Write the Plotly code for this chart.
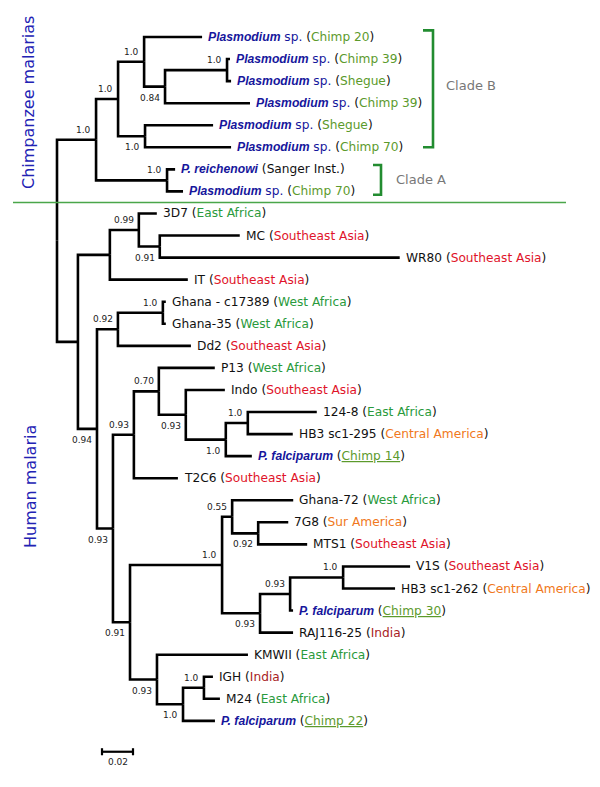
import plotly.graph_objects as go

# ---------------- data ----------------
# internal nodes of the tree (parent listed before child); branch lengths in substitutions/site
internal_nodes = ["root", "C", "B", "B1", "B1b", "B1b1", "B2", "A",
                  "H", "H1", "H1a", "H1b", "Hx", "H2", "H2a", "Hy", "H3", "H3a", "H3b", "H3c", "H3d",
                  "Hz", "H4", "H4a", "H4b", "H4c", "H4d", "H4e", "H5", "H5a", "H5b"]
internal_parent = [None, "root", "C", "B", "B1", "B1b", "B", "C",
                   "root", "H", "H1", "H1a", "H", "Hx", "H2", "Hx", "Hy", "H3", "H3a", "H3b", "H3c",
                   "Hy", "Hz", "H4", "H4a", "H4", "H4c", "H4d", "Hz", "H5", "H5a"]
internal_length = [0.0, 0.0252, 0.0142, 0.0168, 0.0135, 0.0400, 0.0174, 0.0458,
                   0.0135, 0.0206, 0.0187, 0.0135, 0.0123, 0.0135, 0.0290, 0.0103, 0.0135, 0.0161, 0.0174, 0.0258, 0.0142,
                   0.0110, 0.0594, 0.0065, 0.0168, 0.0245, 0.0194, 0.0342, 0.0174, 0.0168, 0.0135]
internal_support = [None, "1.0", "1.0", "1.0", "0.84", "1.0", "1.0", "1.0",
                    None, None, "0.99", "0.91", "0.94", "0.92", "1.0", "0.93", "0.93", "0.70", "0.93", "1.0", "1.0",
                    "0.91", "1.0", "0.55", "0.92", "0.93", "0.93", "1.0", "0.93", "1.0", "1.0"]

# leaves, top to bottom
leaf_name = ["Plasmodium sp.", "Plasmodium sp.", "Plasmodium sp.", "Plasmodium sp.",
             "Plasmodium sp.", "Plasmodium sp.", "P. reichenowi", "Plasmodium sp.",
             "3D7", "MC", "WR80", "IT", "Ghana - c17389", "Ghana-35", "Dd2", "P13", "Indo",
             "124-8", "HB3 sc1-295", "P. falciparum", "T2C6", "Ghana-72", "7G8", "MTS1",
             "V1S", "HB3 sc1-262", "P. falciparum", "RAJ116-25", "KMWII", "IGH", "M24", "P. falciparum"]
leaf_source = ["Chimp 20", "Chimp 39", "Shegue", "Chimp 39", "Shegue", "Chimp 70", "Sanger Inst.", "Chimp 70",
               "East Africa", "Southeast Asia", "Southeast Asia", "Southeast Asia", "West Africa", "West Africa",
               "Southeast Asia", "West Africa", "Southeast Asia", "East Africa", "Central America", "Chimp 14",
               "Southeast Asia", "West Africa", "Sur America", "Southeast Asia", "Southeast Asia",
               "Central America", "Chimp 30", "India", "East Africa", "India", "East Africa", "Chimp 22"]
leaf_parent = ["B1", "B1b1", "B1b1", "B1b", "B2", "B2", "A", "A",
               "H1a", "H1b", "H1b", "H1", "H2a", "H2a", "H2", "H3a", "H3b", "H3d", "H3d", "H3c", "H3",
               "H4a", "H4b", "H4b", "H4e", "H4e", "H4d", "H4c", "H5", "H5b", "H5b", "H5a"]
leaf_length = [0.0374, 0.0019, 0.0026, 0.0548, 0.0439, 0.0555, 0.0052, 0.0103,
               0.0116, 0.0516, 0.1548, 0.0503, 0.0019, 0.0019, 0.0471, 0.0361, 0.0252, 0.0445, 0.0290, 0.0168,
               0.0284, 0.0394, 0.0194, 0.0316, 0.0432, 0.0335, 0.0019, 0.0213, 0.0587, 0.0058, 0.0103, 0.0206]

scale_bar_length = 0.02
group_labels = ["Chimpanzee malarias", "Human malaria"]
clade_labels = ["Clade B", "Clade A"]

# ---------------- styles ----------------
BLUE = "#16169c"
SIDE_BLUE = "#2222b4"
SOURCE_COLORS = {
    "Chimp 20": "#5c9a2c", "Chimp 39": "#5c9a2c", "Shegue": "#5c9a2c", "Chimp 70": "#5c9a2c",
    "Chimp 14": "#5c9a2c", "Chimp 30": "#5c9a2c", "Chimp 22": "#5c9a2c",
    "East Africa": "#2a9a3c", "West Africa": "#2a9a3c",
    "Southeast Asia": "#e0142a", "India": "#a81c24",
    "Central America": "#f07820", "Sur America": "#f07820",
}
FONT = "DejaVu Sans"
SPECIES_FONT = "Liberation Sans"
PAGE_OFF = 8           # default body margin of the html page
VIEW_W, VIEW_H = 600, 787
W, H = VIEW_W - PAGE_OFF, VIEW_H - PAGE_OFF
PX_PER_UNIT = 1550.0
ROOT_PX = 57.0
ROW0_PX, ROW_PX = 37.0, 22.06


def px_x(px):
    return (px - PAGE_OFF) / W


def px_y(py):
    return 1 - (py - PAGE_OFF) / H


# ---------------- tree geometry ----------------
parent = {}
length = {}
for n, p, l in zip(internal_nodes, internal_parent, internal_length):
    parent[n], length[n] = p, l
leaf_ids = [f"L{i}" for i in range(len(leaf_name))]
for n, p, l in zip(leaf_ids, leaf_parent, leaf_length):
    parent[n], length[n] = p, l

children = {n: [] for n in internal_nodes}
for n in internal_nodes[1:] + leaf_ids:
    children[parent[n]].append(n)

xpos = {"root": 0.0}
for n in internal_nodes[1:] + leaf_ids:
    xpos[n] = xpos[parent[n]] + length[n]

ypos = {lid: float(i) for i, lid in enumerate(leaf_ids)}


def get_y(n):
    if n in ypos:
        return ypos[n]
    ys = [get_y(c) for c in children[n]]
    ypos[n] = (min(ys) + max(ys)) / 2.0
    return ypos[n]


get_y("root")

lx, ly = [], []
for n in internal_nodes[1:] + leaf_ids:
    p = parent[n]
    lx += [xpos[p], xpos[p], xpos[n], None]
    ly += [ypos[p], ypos[n], ypos[n], None]

fig = go.Figure()
fig.add_trace(go.Scatter(x=lx, y=ly, mode="lines", line=dict(color="black", width=2.6),
                         hoverinfo="skip", showlegend=False))

annotations = []


def leaf_label(name, source):
    sp = f"font-family:{SPECIES_FONT}"
    if name.startswith("Plasmodium"):
        genus, rest = name.split(" ", 1)
        nm = (f"<span style='color:{BLUE}'><span style='{sp}'><b><i>{genus}</i></b></span>"
              f" {rest}</span>")
    elif name.startswith("P. "):
        nm = f"<span style='color:{BLUE};{sp}'><b><i>{name}</i></b></span>"
    else:
        nm = name
    src = source
    if name == "P. falciparum":
        src = f"<u>{src}</u>"
    col = SOURCE_COLORS.get(source)
    if col:
        src = f"<span style='color:{col}'>{src}</span>"
    return f"{nm} ({src})"


for lid, nm, src in zip(leaf_ids, leaf_name, leaf_source):
    annotations.append(dict(x=xpos[lid], y=ypos[lid], xref="x", yref="y", text=leaf_label(nm, src),
                            showarrow=False, xanchor="left", yanchor="middle", xshift=4,
                            font=dict(family=FONT, size=12.2, color="#111111")))

# support values
for n, s in zip(internal_nodes, internal_support):
    if s is None:
        continue
    p = parent[n]
    above = (ypos[n] <= ypos[p]) or n == "A"
    annotations.append(dict(x=xpos[n], y=ypos[n], xref="x", yref="y", text=s, showarrow=False,
                            xanchor="right", yanchor="middle", xshift=-3,
                            yshift=10 if above else -11,
                            font=dict(family=FONT, size=9, color="#222222")))

# side group labels
annotations.append(dict(x=px_x(28), y=px_y(103), xref="paper", yref="paper", text=group_labels[0],
                        textangle=-90, showarrow=False, xanchor="center", yanchor="middle",
                        font=dict(family=FONT, size=16, color=SIDE_BLUE)))
annotations.append(dict(x=px_x(31), y=px_y(487), xref="paper", yref="paper", text=group_labels[1],
                        textangle=-90, showarrow=False, xanchor="center", yanchor="middle",
                        font=dict(family=FONT, size=16, color=SIDE_BLUE)))

# clade labels
annotations.append(dict(x=px_x(444), y=px_y(85), xref="paper", yref="paper", text=clade_labels[0],
                        showarrow=False, xanchor="left", yanchor="middle",
                        font=dict(family=FONT, size=13, color="#777777")))
annotations.append(dict(x=px_x(394), y=px_y(180), xref="paper", yref="paper", text=clade_labels[1],
                        showarrow=False, xanchor="left", yanchor="middle",
                        font=dict(family=FONT, size=13, color="#777777")))

shapes = []
GREEN = "#228c30"


def bracket(x0px, x1px, ytop, ybot):
    xa, xb = px_x(x0px), px_x(x1px)
    return dict(type="path", xref="paper", yref="y",
                path=f"M {xa} {ytop} L {xb} {ytop} L {xb} {ybot} L {xa} {ybot}",
                line=dict(color=GREEN, width=2.6))


shapes.append(bracket(423, 433, -0.3, 5.0))
shapes.append(bracket(373, 381, 5.8, 7.15))
# separator line between chimpanzee and human clades
shapes.append(dict(type="line", xref="paper", yref="y", x0=px_x(13), x1=px_x(566), y0=7.5, y1=7.5,
                   line=dict(color="#4aa64a", width=1.5)))

# scale bar
sb_x0 = (102 - ROOT_PX) / PX_PER_UNIT
sb_y = 32.4
shapes.append(dict(type="line", xref="x", yref="y", x0=sb_x0, x1=sb_x0 + scale_bar_length,
                   y0=sb_y, y1=sb_y, line=dict(color="black", width=2.2)))
for xx in (sb_x0, sb_x0 + scale_bar_length):
    shapes.append(dict(type="line", xref="x", yref="y", x0=xx, x1=xx, y0=sb_y - 0.16, y1=sb_y + 0.16,
                       line=dict(color="black", width=2.2)))
annotations.append(dict(x=sb_x0 + scale_bar_length / 2, y=sb_y, xref="x", yref="y", text=f"{scale_bar_length}",
                        showarrow=False, xanchor="center", yanchor="middle", yshift=-10,
                        font=dict(family=FONT, size=9, color="#222222")))

xr = [(PAGE_OFF - ROOT_PX) / PX_PER_UNIT, (VIEW_W - ROOT_PX) / PX_PER_UNIT]
yr = [(VIEW_H - ROW0_PX) / ROW_PX, (PAGE_OFF - ROW0_PX) / ROW_PX]

fig.update_layout(
    width=W, height=H, autosize=False,
    margin=dict(l=0, r=0, t=0, b=0),
    paper_bgcolor="white", plot_bgcolor="white",
    xaxis=dict(range=xr, visible=False, fixedrange=True),
    yaxis=dict(range=yr, visible=False, fixedrange=True),
    annotations=annotations, shapes=shapes, showlegend=False,
)

fig.write_html("out.html")
